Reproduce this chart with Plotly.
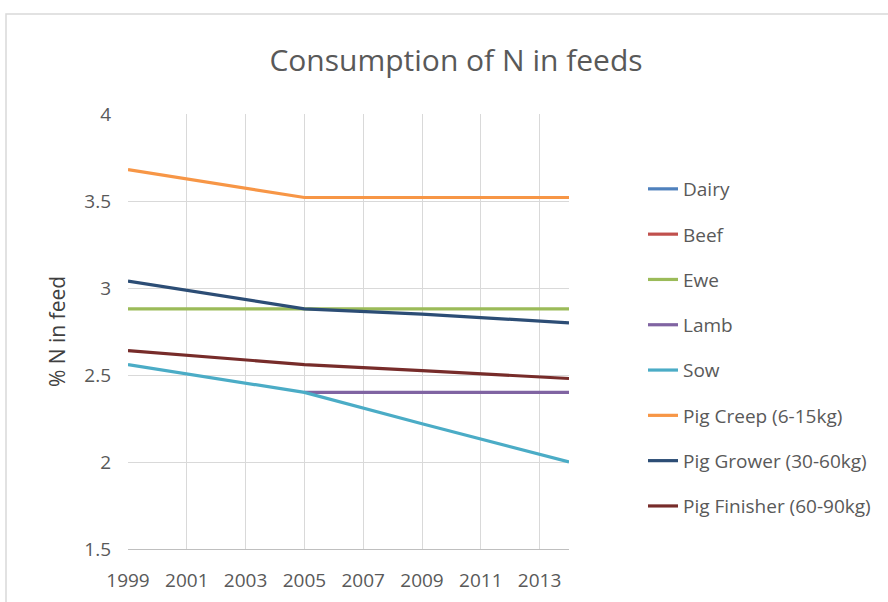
import plotly.graph_objects as go

years = [1999, 2005, 2009, 2014]
series_names = ["Dairy", "Beef", "Ewe", "Lamb", "Sow",
                "Pig Creep (6-15kg)", "Pig Grower (30-60kg)", "Pig Finisher (60-90kg)"]
dairy = [None, None, None, None]
beef = [None, None, None, None]
ewe = [2.88, 2.88, 2.88, 2.88]
lamb = [None, 2.40, 2.40, 2.40]
sow = [2.56, 2.40, 2.22, 2.00]
pig_creep = [3.68, 3.52, 3.52, 3.52]
pig_grower = [3.04, 2.88, 2.85, 2.80]
pig_finisher = [2.64, 2.56, 2.525, 2.48]
series_values = [dairy, beef, ewe, lamb, sow, pig_creep, pig_grower, pig_finisher]
colors = ["#4F81BD", "#C0504D", "#9BBB59", "#8064A2", "#4BACC6",
          "#F79646", "#2C4D75", "#772C2A"]
x_ticks = list(range(1999, 2014, 2))
y_ticks = [1.5, 2, 2.5, 3, 3.5, 4]

FONT = "Open Sans"
fig = go.Figure()
for name, vals, col in zip(series_names, series_values, colors):
    fig.add_trace(go.Scatter(x=years, y=vals, name=name, mode="lines",
                             line=dict(color=col, width=3.2),
                             legendgroup=name, connectgaps=False))

L, R, T, B = 128, 569, 114, 549
W, H = 888, 602
fig.update_layout(
    width=W, height=H,
    margin=dict(l=L, r=W - R, t=T, b=H - B, autoexpand=False),
    paper_bgcolor="white", plot_bgcolor="white",
    font=dict(family=FONT, color="#595959", size=19),
    title=dict(text="Consumption of N in feeds", x=(456 - L) / (R - L), xref="paper",
               xanchor="center", y=1 - 60 / H, yanchor="middle",
               font=dict(size=30, color="#595959", family=FONT)),
    xaxis=dict(range=[1999, 2014], tickvals=x_ticks, showgrid=True,
               gridcolor="#D9D9D9", gridwidth=1, zeroline=False,
               showline=True, linecolor="#BFBFBF", linewidth=1,
               ticks="", tickfont=dict(size=19, color="#595959"), ticklabelstandoff=14),
    yaxis=dict(range=[1.5, 4], tickvals=y_ticks, showgrid=True,
               gridcolor="#D9D9D9", gridwidth=1, zeroline=False,
               showline=False, ticks="", tickfont=dict(size=19, color="#595959"),
               ticklabelstandoff=16,
               title=dict(text="% N in feed", font=dict(size=21, color="#404040"), standoff=12)),
    legend=dict(x=(643 - L) / (R - L), xanchor="left", y=1 - (170 - T) / (B - T),
                yanchor="top", font=dict(size=19, color="#595959", family=FONT),
                tracegroupgap=17.6, bgcolor="rgba(0,0,0,0)"),
    showlegend=True,
)
fig.add_shape(type="rect", xref="paper", yref="paper",
              x0=(6 - L) / (R - L), x1=(900 - L) / (R - L),
              y0=(B - 620) / (B - T), y1=(B - 14) / (B - T),
              line=dict(color="#D9D9D9", width=1.5), fillcolor="rgba(0,0,0,0)", layer="below")
fig.write_html("out.html", config={"displayModeBar": False},
               post_script="document.body.style.margin='0';document.body.style.overflow='hidden';")
